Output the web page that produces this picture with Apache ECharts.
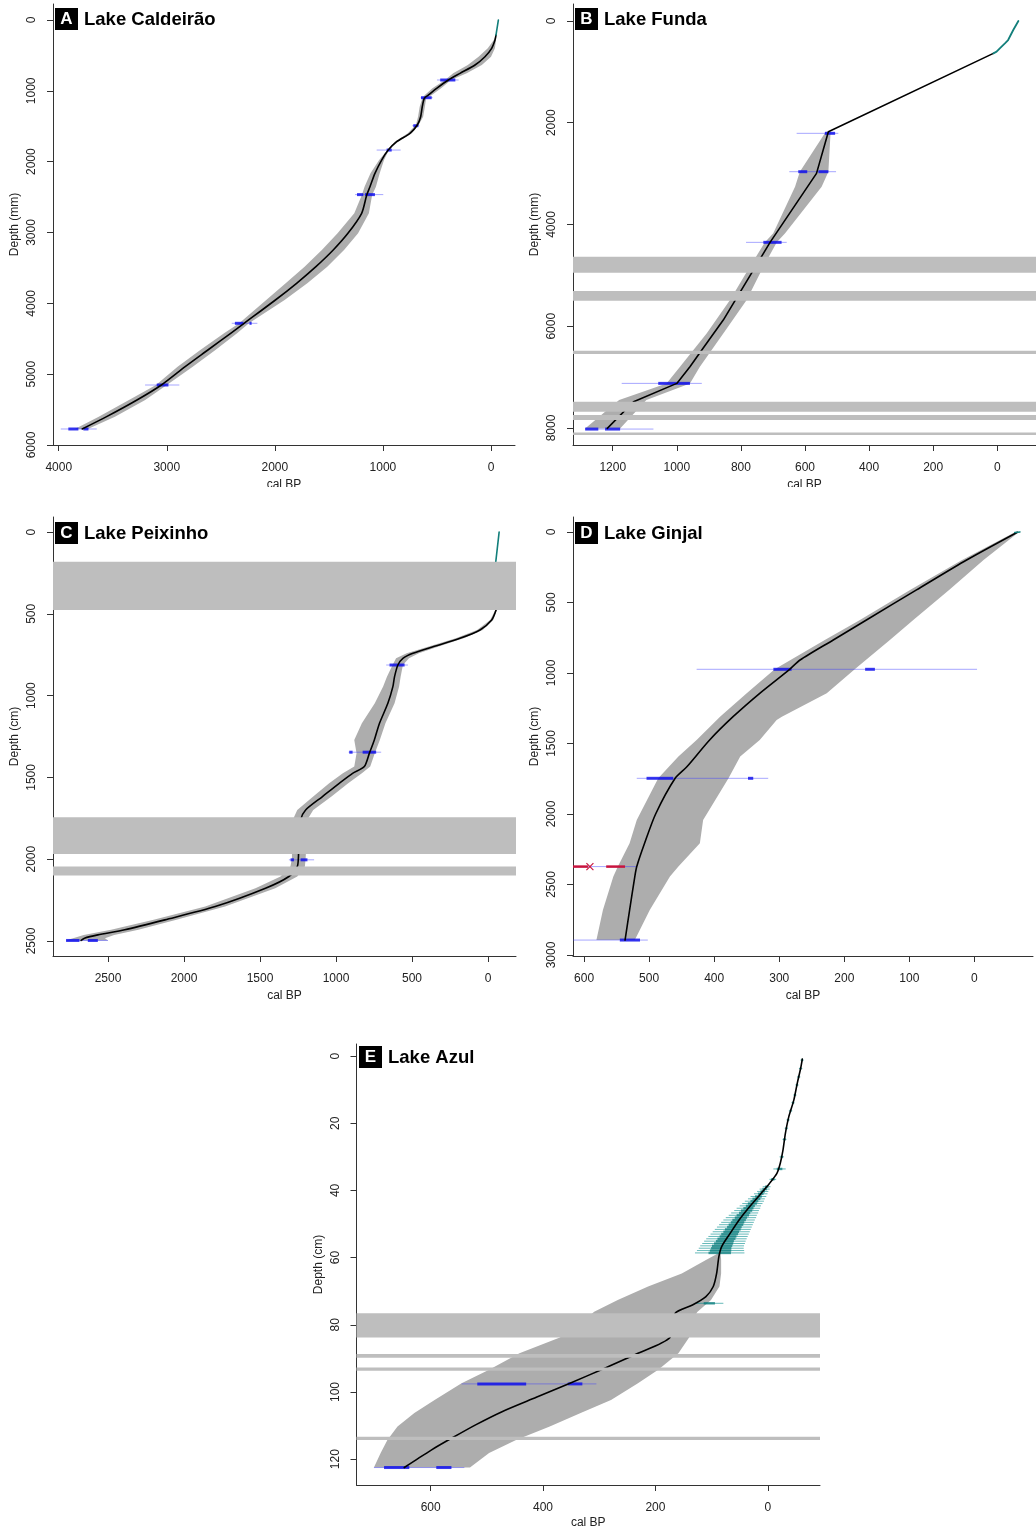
<!DOCTYPE html>
<html>
<head>
<meta charset="utf-8">
<title>Age-depth models of five Azorean lakes</title>
<script src="https://cdn.jsdelivr.net/npm/echarts@6/dist/echarts.min.js"></script>
<style>
  html, body { margin: 0; padding: 0; background: #fff; }
  body { position: relative; width: 1036px; height: 1530px; overflow: hidden; }
  .panel { position: absolute; }
</style>
</head>
<body>
<div id="pA" class="panel" style="left:0;top:0;width:520px;height:487px"></div>
<div id="pB" class="panel" style="left:520px;top:0;width:516px;height:487px"></div>
<div id="pC" class="panel" style="left:0;top:500px;width:520px;height:510px"></div>
<div id="pD" class="panel" style="left:520px;top:500px;width:516px;height:510px"></div>
<div id="pE" class="panel" style="left:290px;top:1030px;width:546px;height:500px"></div>
<script>
// ---------- A: Lake Caldeirão (depth in mm, age in cal BP) ----------
const caldDepth = [212, 282, 400, 518, 635, 753, 847, 965, 1059, 1106, 1224, 1365, 1483, 1600, 1718, 1836, 1977, 2165, 2354, 2471, 2729, 3012, 3247, 3482, 3717, 3953, 4282, 4423, 4659, 4894, 5153, 5365, 5600, 5774];
const caldAge   = [-46, -37, -6, 56, 148, 287, 395, 503, 580, 617, 636, 651, 682, 750, 873, 951, 1012, 1074, 1120, 1150, 1197, 1324, 1460, 1620, 1799, 1995, 2285, 2409, 2620, 2830, 3050, 3276, 3557, 3783];
const caldMin   = [-48, -46, -36, 0, 85, 225, 370, 462, 548, 600, 612, 628, 670, 732, 860, 945, 990, 1030, 1065, 1100, 1130, 1230, 1360, 1515, 1700, 1910, 2240, 2350, 2550, 2760, 3000, 3200, 3480, 3730];
const caldMax   = [-44, -26, 30, 115, 215, 350, 425, 542, 612, 635, 660, 675, 695, 770, 890, 958, 1035, 1115, 1170, 1195, 1265, 1420, 1565, 1725, 1900, 2080, 2330, 2470, 2690, 2900, 3100, 3350, 3630, 3850];
// calibrated dates: [depth, youngest, oldest]
const caldDates = [[847, 300, 500], [1097, 540, 651], [1492, 664, 728], [1836, 836, 1058], [2465, 997, 1258], [4282, 2162, 2399], [5153, 2884, 3201], [5774, 3648, 3981]];
const caldCores = [[847, 330, 470], [1097, 549, 648], [1492, 672, 719], [1836, 919, 966], [2465, 1074, 1166], [2465, 1182, 1240], [4282, 2215, 2235], [4282, 2290, 2370], [5153, 2985, 3093], [5774, 3725, 3772], [5774, 3818, 3911]];
const caldPbDepth = [0, 212];
const caldPbAge   = [-68, -46];

// ---------- B: Lake Funda (mm) ----------
const fundaDepth = [636, 2176, 2995, 4351, 5878, 6468, 6796, 7123, 7484, 8008];
const fundaAge   = [12, 527, 564, 709, 855, 922, 959, 1000, 1135, 1217];
const fundaEnvDepth = [2176, 2962, 3257, 4174, 4351, 4830, 5485, 6140, 6796, 7123, 7451, 8008];
const fundaEnvMin   = [520, 527, 548, 662, 688, 730, 782, 855, 928, 959, 1095, 1177];
const fundaEnvMax   = [535, 616, 631, 699, 725, 772, 834, 907, 990, 1032, 1180, 1286];
const fundaDates = [[2208, 496, 626], [2962, 503, 649], [4351, 657, 784], [7123, 922, 1172], [8021, 1073, 1286]];
const fundaCores = [[2208, 506, 538], [2962, 593, 621], [2962, 527, 558], [4351, 673, 730], [7123, 959, 1058], [8021, 1245, 1286], [8021, 1177, 1224]];
const fundaPbDepth = [0, 177, 374, 439, 537, 603, 636];
const fundaPbAge   = [-66, -50, -34, -24, -8, 2, 12];
const fundaSlumps = [[4633, 4948], [5308, 5498], [6481, 6547], [7484, 7680], [7746, 7844], [8087, 8139]];

// ---------- C: Lake Peixinho (cm) ----------
const peixDepth = [477, 538, 599, 650, 701, 741, 772, 813, 884, 945, 1047, 1169, 1271, 1353, 1434, 1475, 1536, 1617, 1699, 1760, 1903, 1998, 2045, 2106, 2178, 2290, 2371, 2432, 2463, 2483, 2497];
const peixAge   = [-53, -24, 53, 185, 362, 494, 560, 593, 615, 626, 659, 714, 748, 781, 814, 891, 979, 1089, 1200, 1233, 1244, 1248, 1255, 1310, 1464, 1795, 2126, 2390, 2567, 2655, 2677];
const peixMin   = [-58, -34, 35, 160, 330, 455, 520, 560, 575, 585, 615, 675, 712, 745, 775, 830, 920, 1030, 1150, 1190, 1195, 1200, 1205, 1255, 1400, 1730, 2050, 2300, 2460, 2520, 2500];
const peixMax   = [-48, -14, 72, 212, 395, 535, 605, 628, 665, 690, 745, 830, 880, 865, 880, 955, 1045, 1150, 1255, 1285, 1290, 1290, 1300, 1365, 1530, 1860, 2200, 2480, 2660, 2730, 2776];
const peixDates = [[813, 527, 670], [1346, 703, 917], [2004, 1144, 1310], [2497, 2500, 2776]];
const peixCores = [[813, 549, 648], [1346, 736, 825], [1346, 891, 913], [2004, 1188, 1233], [2004, 1277, 1299], [2497, 2567, 2633], [2497, 2688, 2776]];
const peixPbDepth = [0, 181];
const peixPbAge   = [-73, -51];
const peixSlumps = [[181, 477], [1744, 1968], [2045, 2100]];

// ---------- D: Lake Ginjal (cm) ----------
const ginjalDepth = [2, 199, 411, 624, 766, 908, 974, 1144, 1310, 1475, 1665, 1747, 2000, 2208, 2373, 2444, 2681, 2894];
const ginjalAge   = [-66, 12, 89, 166, 217, 268, 284, 330, 371, 407, 442, 460, 490, 507, 519, 522, 530, 537];
const ginjalEnvDepth = [2, 199, 411, 624, 766, 974, 1144, 1310, 1333, 1475, 1593, 1747, 2043, 2208, 2373, 2444, 2681, 2894];
const ginjalEnvMin   = [-68, -14, 39, 94, 130, 184, 227, 296, 304, 330, 360, 378, 417, 422, 455, 468, 499, 522];
const ginjalEnvMax   = [-62, 19, 99, 176, 230, 307, 350, 391, 396, 427, 455, 486, 519, 530, 548, 555, 571, 581];
const ginjalDates = [[974, -4, 427], [1747, 317, 519], [2894, 502, 617], [2373, 519, 617]];
const ginjalCores = [[974, 281, 309], [974, 153, 168], [1747, 463, 504], [1747, 340, 348], [2894, 514, 545]];
const ginjalOutlierCores = [[2373, 537, 566], [2373, 594, 617]];
const ginjalOutlierMark = [[2373, 591]];
const ginjalPbDepth = [0, 4];
const ginjalPbAge   = [-70, -62];

// ---------- E: Lake Azul (cm) ----------
const azulDepth = [0.9, 3.7, 8.1, 13.1, 18.1, 23.0, 28.0, 31.9, 34.9, 37.9, 40.9, 44.8, 48.8, 52.8, 56.7, 59.7, 64.7, 68.6, 71.6, 74.1, 76.6, 83.8, 88.5, 93.0, 97.4, 101.6, 105.8, 109.8, 113.8, 117.3, 120.2, 122.5];
const azulAge   = [-61.5, -58.5, -52.5, -46.4, -37.4, -31.4, -27.1, -22.3, -16.3, -3, 12, 32, 51, 67, 82, 87, 91, 97, 110, 134, 165, 174, 231, 291, 352, 412, 472, 520, 563, 599, 626, 647];
const azulEnvDepth = [58.7, 60.7, 64.7, 68.6, 72.6, 76.1, 76.6, 83.8, 88.5, 93.4, 97.4, 102.4, 106.3, 110.3, 114.3, 118.2, 122.5];
const azulEnvMin   = [84, 83, 83, 86, 101, 125, 127, 140, 159, 195, 231, 279, 333, 388, 448, 496, 530];
const azulEnvMax   = [88, 110, 153, 213, 267, 309, 312, 370, 442, 496, 545, 593, 629, 659, 677, 689, 701];
const azulDates = [[97.6, 305, 545], [122.5, 540, 701]];
const azulCores = [[97.6, 430, 517], [97.6, 330, 356], [122.5, 638, 683], [122.5, 563, 590]];
const azulSlumps = [[76.6, 83.8], [88.7, 89.8], [92.7, 93.7], [113.3, 114.3]];
// 210Pb-derived ages: depth, age, 95% half-range, 68% half-range
const azulPbDepth = [1.2, 3.7, 6.2, 8.6, 11.6, 13.9, 16.3, 19.0, 21.5, 24.8, 30.0, 33.6, 36.7, 38.9, 39.6, 40.3, 41.0, 41.8, 42.5, 43.2, 43.9, 44.6, 45.3, 46.0, 46.7, 47.4, 48.1, 48.8, 49.5, 50.2, 50.9, 51.6, 52.3, 53.0, 53.7, 54.4, 55.1, 55.8, 56.5, 57.2, 57.9, 58.6, 73.6];
const azulPbAge   = [-61.2, -58.5, -55, -52, -48.2, -45, -40.6, -36.3, -33.2, -29.8, -25, -21, -9, 2, 5.5, 9, 12.5, 16.6, 20.2, 23.8, 27.4, 31, 34.4, 37.7, 41.1, 44.4, 47.7, 51, 53.8, 56.6, 59.4, 62.2, 65, 67.8, 70.7, 73.5, 76.3, 78.6, 81.2, 82.8, 84, 85.5, 104];
const azulPbErr   = [3, 3, 3, 3, 3, 3, 3, 3, 3, 3.5, 4, 11, 6, 7, 9, 10, 12, 14, 15, 17, 18, 19, 21, 22, 24, 25, 27, 28, 29, 30, 31, 32, 33, 34, 35, 36, 37, 38, 39, 40, 42, 44, 25];
const azulPbCore  = [1.5, 1.5, 1.5, 1.5, 1.5, 1.5, 1.5, 1.5, 1.5, 2, 2, 5, 3, 3, 4, 4, 5, 6, 7, 7, 8, 8, 9, 10, 10, 11, 11, 12, 12, 13, 13, 14, 14, 15, 15, 16, 16, 17, 18, 18, 19, 20, 10];

// ---------- tick values ----------
const caldTicksX = [0, 1000, 2000, 3000, 4000];
const caldTicksY = [0, 1000, 2000, 3000, 4000, 5000, 6000];
const fundaTicksX = [0, 200, 400, 600, 800, 1000, 1200];
const fundaTicksY = [0, 2000, 4000, 6000, 8000];
const peixTicksX = [0, 500, 1000, 1500, 2000, 2500];
const peixTicksY = [0, 500, 1000, 1500, 2000, 2500];
const ginjalTicksX = [0, 100, 200, 300, 400, 500, 600];
const ginjalTicksY = [0, 500, 1000, 1500, 2000, 2500, 3000];
const azulTicksX = [0, 200, 400, 600];
const azulTicksY = [0, 20, 40, 60, 80, 100, 120];

// ---------- styling ----------
const FONT = '"Liberation Sans", Arial, Helvetica, sans-serif';
const ENV_FILL = '#adadad';
const SLUMP_FILL = '#bebebe';
const TEAL = '#127f7b';
const DATE_THIN = 'rgba(60,60,255,0.45)';
const DATE_CORE = 'rgba(10,10,235,0.8)';
const PB_THIN = 'rgba(0,140,140,0.6)';
const PB_CORE = 'rgba(0,118,118,0.7)';
const RED = '#c8143f';
const AXIS = '#333';

// ---------- series builders ----------
function envelope(depth, lo, hi) {
  return {
    type: 'custom', silent: true, z: 1,
    data: [[lo[0], depth[0]]],
    renderItem: function (params, api) {
      const pts = [];
      for (let i = 0; i < depth.length; i++) pts.push(api.coord([lo[i], depth[i]]));
      for (let i = depth.length - 1; i >= 0; i--) pts.push(api.coord([hi[i], depth[i]]));
      return { type: 'polygon', shape: { points: pts }, style: { fill: ENV_FILL } };
    }
  };
}

function curve(depth, age, color, width, smooth, z) {
  return {
    type: 'line', silent: true, z: z, clip: true,
    data: depth.map((d, i) => [age[i], d]),
    showSymbol: false, symbol: 'none',
    smooth: smooth,
    lineStyle: { color: color, width: width, cap: 'round', join: 'round' },
    emphasis: { disabled: true }
  };
}

// horizontal segments: items are [depth, ageFrom, ageTo]
function segments(items, color, width, z) {
  return {
    type: 'custom', silent: true, z: z, clip: true,
    data: items,
    renderItem: function (params, api) {
      const d = api.value(0);
      const p1 = api.coord([api.value(1), d]);
      const p2 = api.coord([api.value(2), d]);
      return { type: 'line', shape: { x1: p1[0], y1: p1[1], x2: p2[0], y2: p2[1] },
               style: { stroke: color, lineWidth: width } };
    }
  };
}

// slump / hiatus bands spanning the whole plot width: items are [topDepth, bottomDepth]
function slumps(items) {
  return {
    type: 'custom', silent: true, z: 6,
    data: items,
    renderItem: function (params, api) {
      const cs = params.coordSys;
      const y1 = api.coord([0, api.value(0)])[1];
      const y2 = api.coord([0, api.value(1)])[1];
      return { type: 'rect', shape: { x: cs.x, y: Math.min(y1, y2), width: cs.width, height: Math.abs(y2 - y1) },
               style: { fill: SLUMP_FILL } };
    }
  };
}

// cross marker for rejected dates: items are [depth, age]
function crosses(items, color) {
  return {
    type: 'custom', silent: true, z: 5,
    data: items,
    renderItem: function (params, api) {
      const p = api.coord([api.value(1), api.value(0)]);
      const r = 3.5;
      return { type: 'group', children: [
        { type: 'line', shape: { x1: p[0] - r, y1: p[1] - r, x2: p[0] + r, y2: p[1] + r }, style: { stroke: color, lineWidth: 1.2 } },
        { type: 'line', shape: { x1: p[0] - r, y1: p[1] + r, x2: p[0] + r, y2: p[1] - r }, style: { stroke: color, lineWidth: 1.2 } }
      ] };
    }
  };
}

function pbBars(depth, age, half) {
  return depth.map((d, i) => [d, age[i] - half[i], age[i] + half[i]]);
}

// ---------- panels ----------
const panels = [
  {
    id: 'pA', origin: [0, 0], grid: [53, 4, 462, 441], tag: 'A', title: 'Lake Caldeirão', tagPos: [55, 8],
    xRange: [-222, 4053], yRange: [-226, 6000], xTicks: caldTicksX, yTicks: caldTicksY, yName: 'Depth (mm)', xNameGap: 34,
    series: [
      envelope(caldDepth, caldMin, caldMax),
      segments(caldDates, DATE_THIN, 1, 2),
      segments(caldCores, DATE_CORE, 3, 3),
      curve(caldDepth, caldAge, '#000', 1.6, 0.25, 4),
      curve(caldPbDepth, caldPbAge, TEAL, 1.6, false, 4)
    ]
  },
  {
    id: 'pB', origin: [520, 0], grid: [573, 4, 463, 441], tag: 'B', title: 'Lake Funda', tagPos: [575, 8],
    xRange: [-121, 1324], yRange: [-334, 8334], xTicks: fundaTicksX, yTicks: fundaTicksY, yName: 'Depth (mm)', xNameGap: 34,
    series: [
      envelope(fundaEnvDepth, fundaEnvMin, fundaEnvMax),
      segments(fundaDates, DATE_THIN, 1, 2),
      segments(fundaCores, DATE_CORE, 3, 3),
      curve(fundaDepth, fundaAge, '#000', 1.6, false, 4),
      curve(fundaPbDepth, fundaPbAge, TEAL, 1.8, false, 4),
      slumps(fundaSlumps)
    ]
  },
  {
    id: 'pC', origin: [0, 500], grid: [53, 517, 463, 439], tag: 'C', title: 'Lake Peixinho', tagPos: [55, 522],
    xRange: [-184, 2862], yRange: [-92, 2592], xTicks: peixTicksX, yTicks: peixTicksY, yName: 'Depth (cm)', xNameGap: 34,
    series: [
      envelope(peixDepth, peixMin, peixMax),
      segments(peixDates, DATE_THIN, 1, 2),
      segments(peixCores, DATE_CORE, 3, 3),
      curve(peixDepth, peixAge, '#000', 1.6, 0.25, 4),
      curve(peixPbDepth, peixPbAge, TEAL, 1.6, false, 4),
      slumps(peixSlumps)
    ]
  },
  {
    id: 'pD', origin: [520, 500], grid: [573, 517, 460, 439], tag: 'D', title: 'Lake Ginjal', tagPos: [575, 522],
    xRange: [-90, 617], yRange: [-106, 3007], xTicks: ginjalTicksX, yTicks: ginjalTicksY, yName: 'Depth (cm)', xNameGap: 34,
    series: [
      envelope(ginjalEnvDepth, ginjalEnvMin, ginjalEnvMax),
      segments(ginjalDates, DATE_THIN, 1, 2),
      segments(ginjalCores, DATE_CORE, 3, 3),
      segments(ginjalOutlierCores, RED, 2.5, 3),
      crosses(ginjalOutlierMark, RED),
      curve(ginjalDepth, ginjalAge, '#000', 1.6, 0.25, 4),
      curve(ginjalPbDepth, ginjalPbAge, TEAL, 1.6, false, 4)
    ]
  },
  {
    id: 'pE', origin: [290, 1030], grid: [356.5, 1044, 463.5, 441], tag: 'E', title: 'Lake Azul', tagPos: [359, 1046],
    xRange: [-93, 732], yRange: [-3.6, 127.7], xTicks: azulTicksX, yTicks: azulTicksY, yName: 'Depth (cm)', xNameGap: 32,
    series: [
      envelope(azulEnvDepth, azulEnvMin, azulEnvMax),
      segments(azulDates, DATE_THIN, 1, 2),
      segments(azulCores, DATE_CORE, 3, 3),
      segments(pbBars(azulPbDepth, azulPbAge, azulPbErr), PB_THIN, 1, 3),
      segments(pbBars(azulPbDepth, azulPbAge, azulPbCore), PB_CORE, 2.5, 3),
      curve(azulDepth, azulAge, '#000', 1.6, 0.25, 4),
      slumps(azulSlumps)
    ]
  }
];

function axisCommon(ticks) {
  return {
    type: 'value', inverse: true,
    nameMoveOverlap: false,
    axisLine: { show: true, onZero: false, lineStyle: { color: AXIS, width: 1 } },
    axisTick: { show: true, length: 6, customValues: ticks, lineStyle: { color: AXIS, width: 1 } },
    splitLine: { show: false },
    nameTextStyle: { fontFamily: FONT, fontSize: 12, color: '#222' }
  };
}

panels.forEach(function (p) {
  const ox = p.origin[0], oy = p.origin[1];
  const chart = echarts.init(document.getElementById(p.id), null, { renderer: 'canvas' });
  const tx = p.tagPos[0] - ox, ty = p.tagPos[1] - oy;
  const xAxis = Object.assign(axisCommon(p.xTicks), {
    min: p.xRange[0], max: p.xRange[1],
    name: 'cal BP', nameLocation: 'middle', nameGap: p.xNameGap,
    axisLabel: { customValues: p.xTicks, margin: 17, fontFamily: FONT, fontSize: 12, color: '#222',
                 formatter: function (v) { return String(v); } }
  });
  const yAxis = Object.assign(axisCommon(p.yTicks), {
    min: p.yRange[0], max: p.yRange[1],
    name: p.yName, nameLocation: 'middle', nameGap: 32, nameRotate: 90,
    axisLabel: { customValues: p.yTicks, rotate: 90, margin: 15, fontFamily: FONT, fontSize: 12, color: '#222',
                 formatter: function (v) { return String(v); } }
  });
  chart.setOption({
    animation: false,
    backgroundColor: '#fff',
    grid: { left: p.grid[0] - ox, top: p.grid[1] - oy, width: p.grid[2], height: p.grid[3],
            containLabel: false, outerBoundsMode: 'none' },
    xAxis: xAxis,
    yAxis: yAxis,
    graphic: [
      { type: 'rect', z: 20, shape: { x: tx, y: ty, width: 23, height: 22 }, style: { fill: '#000' } },
      { type: 'text', z: 21, x: tx + 11.5, y: ty + 11.5,
        style: { text: p.tag, fill: '#fff', font: 'bold 17px ' + FONT, align: 'center', verticalAlign: 'middle' } },
      { type: 'text', z: 21, x: tx + 29, y: ty + 11.5,
        style: { text: p.title, fill: '#000', font: 'bold 18.5px ' + FONT, align: 'left', verticalAlign: 'middle' } }
    ],
    series: p.series
  });
});
</script>
</body>
</html>
